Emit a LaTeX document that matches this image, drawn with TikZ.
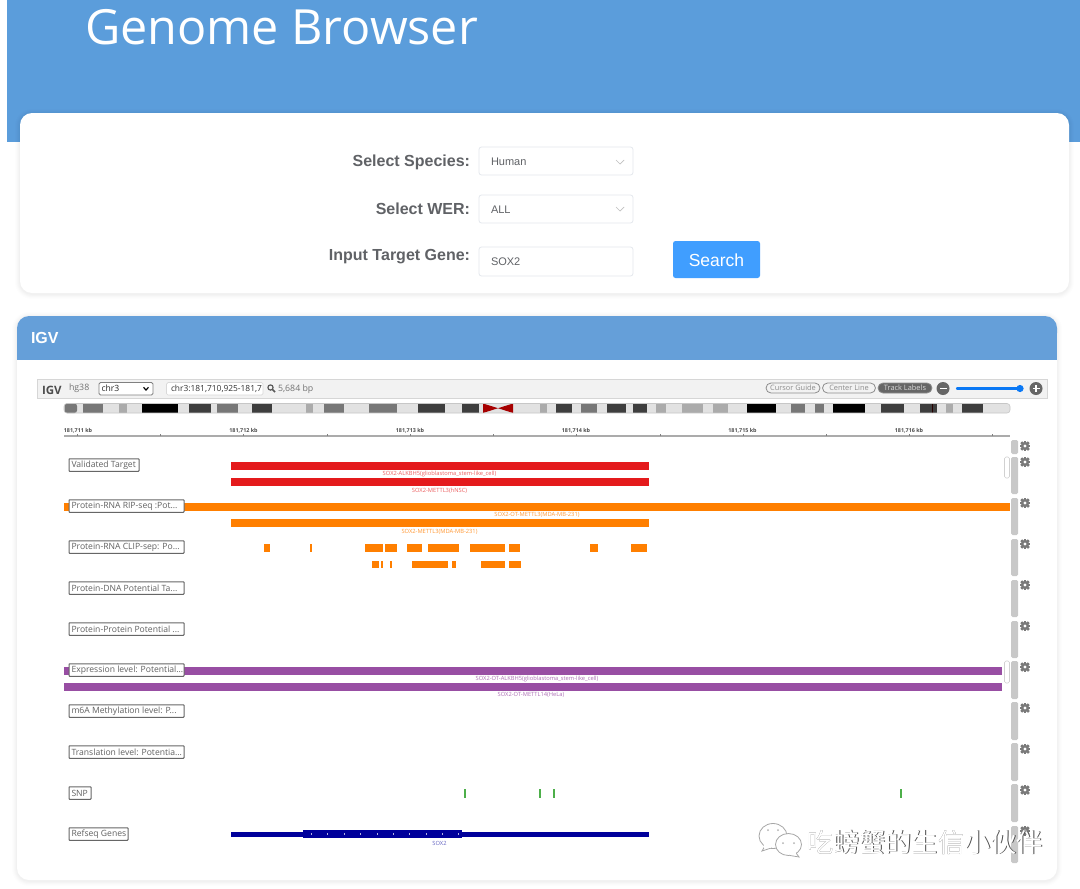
\documentclass[tikz,border=0pt]{standalone}
\usepackage{fontspec}
\setmainfont{Liberation Sans}
\newfontfamily\uifont{Open Sans}
\newfontfamily\cjkfont{Noto Sans CJK SC}
\definecolor{headblue}{HTML}{5B9DDB}
\definecolor{panelblue}{HTML}{659FD9}
\definecolor{formgray}{HTML}{606266}
\definecolor{fieldline}{HTML}{E4E7ED}
\definecolor{btnblue}{HTML}{409EFF}
\definecolor{sliderblue}{HTML}{0A78F5}
\definecolor{trkred}{HTML}{E41A1C}
\definecolor{trkorange}{HTML}{FF7F00}
\definecolor{trkpurple}{HTML}{984EA3}
\definecolor{trknavy}{HTML}{00009B}
\definecolor{trkgreen}{HTML}{4DAF4A}
\definecolor{bandA}{HTML}{777777}
\definecolor{bandB}{HTML}{ABABAB}
\definecolor{bandC}{HTML}{3E3E3E}
\definecolor{bandL}{HTML}{E2E2E2}
\definecolor{barGray}{HTML}{C8C8C8}
\tikzset{
  x=1pt,y=-1pt,
  every node/.style={inner sep=0pt,outer sep=0pt},
  formlabel/.style={anchor=east,text=formgray,font=\fontsize{16}{18}\selectfont\bfseries},
  fieldbox/.style={draw=fieldline,fill=white,rounded corners=2.5pt,line width=.8pt},
  fieldtext/.style={anchor=west,text=formgray,font=\fontsize{11}{13}\selectfont},
  chevron/.style={draw=gray!50,line width=.7pt},
  tracklabel/.style={draw=black!60,fill=white,line width=1pt,rounded corners=.6pt,anchor=west,
    inner xsep=2.5pt,minimum height=12.5pt,text=black!62,
    font=\uifont\fontsize{8.6}{10}\selectfont},
  tinylabel/.style={font=\uifont\fontsize{5.75}{6.5}\selectfont},
  rulerlabel/.style={font=\uifont\bfseries\fontsize{5.4}{6}\selectfont,text=black!70},
  pillbtn/.style={draw=black!45,rounded corners=5pt,line width=.8pt,minimum height=10pt,
    font=\uifont\fontsize{7.4}{9}\selectfont,text=black!45},
  pics/gearicon/.style={code={
    \foreach \a in {0,45,...,315}{\fill[black!52,rotate=\a] (-1.15pt,-5.3pt) rectangle (1.15pt,5.3pt);}
    \fill[black!52] (0,0) circle[radius=4.2pt];
    \fill[white] (0,0) circle[radius=1.7pt];
  }},
}
\newcommand{\softcard}[5]{%
  \foreach \e/\o in {5/.006,4/.008,3/.01,2/.012,1/.016}{%
    \fill[black,opacity=\o,rounded corners=#5pt+\e pt] (#1-\e,#2-\e+1) rectangle (#3+\e,#4+\e+1);}%
  \fill[white,rounded corners=#5pt] (#1,#2) rectangle (#3,#4);}
\newcommand{\chev}[2]{\draw[chevron] (#1-4,#2-2) -- (#1,#2+2) -- (#1+4,#2-2);}
\newcommand{\tracktag}[4]{\node[tracklabel] (#1) at (69,#2) {\makebox[\dimexpr#3pt-5pt\relax][l]{#4}};}
\begin{document}
\begin{tikzpicture}
\useasboundingbox (0,0) rectangle (1080,889);
\clip (0,0) rectangle (1080,889);
\fill[white] (0,0) rectangle (1080,889);
% header
\fill[headblue] (7,0) rectangle (1080,142);
\node[anchor=base west,text=white,font=\uifont\fontsize{48.5}{58}\selectfont] (title) at (85,44) {Genome Browser};
% form card
\softcard{20}{113}{1069}{293}{12}
\node[formlabel] (lSpecies) at (470,162) {Select Species:};
\node[formlabel] (lWer) at (470,208.5) {Select WER:};
\node[formlabel] (lGene) at (470,257) {Input Target Gene:};
\draw[fieldbox] (479,147) rectangle (633,175);
\draw[fieldbox] (479,195) rectangle (633,223);
\draw[fieldbox] (479,247) rectangle (633,276);
\node[fieldtext] (vSpecies) at (491,161.5) {Human};
\node[fieldtext] (vWer) at (491,209.5) {ALL};
\node[fieldtext] (vGene) at (491,262) {SOX2};
\chev{620}{162}
\chev{620}{209}
\fill[btnblue,rounded corners=2.5pt] (673,241) rectangle (760,278);
\node[text=white,font=\fontsize{17.5}{20}\selectfont] (search) at (716.5,260) {Search};
% IGV card
\softcard{17}{316}{1057}{880}{12}
\fill[panelblue,rounded corners=12pt] (17,316) rectangle (1057,345);
\fill[panelblue] (17,330) rectangle (1057,360);
\node[anchor=west,text=white,font=\fontsize{16}{18}\selectfont\bfseries] (igvhead) at (31,338) {IGV};
% toolbar
\fill[black!5] (37,379) rectangle (1047,398);
\draw[black!16,line width=.8pt] (37,379) rectangle (1047,398);
\node[anchor=west,text=black!70,font=\uifont\bfseries\fontsize{11.5}{13}\selectfont] (igvlogo) at (42,390) {IGV};
\node[anchor=west,text=black!55,font=\uifont\fontsize{8.8}{10}\selectfont] (hg) at (69,388.5) {hg38};
\draw[black!50,fill=white,rounded corners=1.5pt,line width=.8pt] (99,382.5) rectangle (153,395);
\node[anchor=west,text=black!85,font=\uifont\fontsize{8.6}{10}\selectfont] (chr) at (101.5,388.7) {chr3};
\draw[black,line width=1.2pt] (143.5,387.3) -- (146,390) -- (148.5,387.3);
\draw[black!15,fill=white,rounded corners=1.5pt,line width=.7pt] (166.5,382.5) rectangle (263,395);
\node[anchor=west,text=black!80,font=\uifont\fontsize{8.4}{10}\selectfont] (locus) at (171,388.7) {chr3:181,710,925-181,7};
\draw[black!65,line width=1.2pt] (270.5,387.5) circle[radius=2.6pt];
\draw[black!65,line width=1.5pt] (272.5,389.5) -- (275,392);
\node[anchor=west,text=black!55,font=\uifont\fontsize{8.8}{10}\selectfont] (bp) at (278,389) {5,684 bp};
\node[pillbtn,minimum width=54pt] (cg) at (793,388) {Cursor Guide};
\node[pillbtn,minimum width=53pt] (cl) at (849,388) {Center Line};
\node[pillbtn,fill=black!60,text=white!85!black,minimum width=54pt] (tlb) at (905,388) {Track Labels};
\fill[black!60] (943,388.5) circle[radius=6.5pt];
\fill[white] (939.5,387.6) rectangle (946.5,389.4);
\draw[sliderblue,line width=2.4pt,line cap=round] (957,388.5) -- (1019,388.5);
\fill[sliderblue] (1020,388.5) circle[radius=3.6pt];
\fill[black!60] (1036,388.5) circle[radius=6.5pt];
\fill[white] (1032.5,387.6) rectangle (1039.5,389.4);
\fill[white] (1035.1,385) rectangle (1036.9,392);
% ideogram
\fill[bandL,rounded corners=3pt] (64,403.5) rectangle (1010,413);
\fill[bandA,rounded corners=2.5pt] (64.5,403.5) rectangle (77,413);
\foreach \a/\b/\c in {83.3/102.7/bandA,119.3/127.3/bandB,142/177.7/black,189.3/211/bandC,217/238/bandA,251.7/271.7/bandC,306/313.3/bandB,323.7/343.7/bandA,368.7/396.7/bandA,418/445/bandC,462.3/479.3/bandC,
  540/547.3/bandB,556/572.3/bandC,580.7/596.7/bandA,607/626/bandC,633.3/647/bandC,656.3/665.7/bandB,682/703.3/bandB,713.3/727.7/bandB,747.3/776/black,791/805/bandA,814.7/824/bandA,832.7/865/black,881.3/903.7/bandC,919.7/937/bandC,946/953/bandB,962.3/983/bandC}
  {\fill[\c] (\a,403.5) rectangle (\b,413);}
\fill[black!85!red] (931.5,403.5) rectangle (932.7,413);
\fill[red!65!black] (483,403.5) -- (498,408.2) -- (483,413) -- cycle;
\fill[red!65!black] (513,403.5) -- (498,408.2) -- (513,413) -- cycle;
\fill[red!65!black] (483,403.5) rectangle (484,413);
\draw[black!22,rounded corners=3pt,line width=.6pt] (64,403.5) rectangle (1010,413);
% ruler
\draw[black!33,line width=1.2pt] (64,436) -- (1010,436);
\foreach \t in {77,160,243.7,327,410,493,576,660,743,826,909,992}
  {\draw[black!50,line width=.8pt] (\t,434.3) -- (\t,436);}
\node[rulerlabel] (k1) at (78,431) {181,711 kb};
\node[rulerlabel] (k2) at (243.5,431) {181,712 kb};
\node[rulerlabel] (k3) at (410,431) {181,713 kb};
\node[rulerlabel] (k4) at (576,431) {181,714 kb};
\node[rulerlabel] (k5) at (742.5,431) {181,715 kb};
\node[rulerlabel] (k6) at (909,431) {181,716 kb};
% side bars and gears
\foreach \a/\b in {440/454,457/494,498/535,539/576,580/617,621/658,661/699,702/740,743/781,784/822,826/863}
  {\fill[barGray,rounded corners=1.5pt] (1011,\a) rectangle (1018,\b);}
\foreach \g in {446,462,503,544,585,626,667,708,749,790,831}
  {\pic at (1025,\g) {gearicon};}
\draw[black!18,fill=white,rounded corners=1.5pt,line width=.6pt] (1004.5,457) rectangle (1009.5,478);
\draw[black!18,fill=white,rounded corners=1.5pt,line width=.6pt] (1004.5,661) rectangle (1009.5,683);
% tracks
\fill[trkred] (231,462) rectangle (648.5,470);
\fill[trkred] (231,478) rectangle (648.5,486);
\fill[trkorange] (64,503) rectangle (1010,511);
\fill[trkorange] (231,519) rectangle (648.5,527);
\foreach \a/\b in {264/270,310/312,365/383,385/397,407/422,428/459,470/505,509/520,590/598,631/647}
  {\fill[trkorange] (\a,544) rectangle (\b,551.5);}
\foreach \a/\b in {372/379,381/382.5,390/392,412/448,452/456,481/504.5,509/520.5}
  {\fill[trkorange] (\a,560.5) rectangle (\b,568);}
\fill[trkpurple] (64,666.5) rectangle (1002,674.5);
\fill[trkpurple] (64,683) rectangle (1002,691);
\foreach \s in {465,540,554,901}
  {\fill[trkgreen] (\s-.7,789) rectangle (\s+.7,797.5);}
\fill[trknavy] (231,832) rectangle (648.5,836.5);
\fill[trknavy] (303,830) rectangle (462,838);
\foreach \t in {311,327,344,360,377,393,409,426,442,458}
  {\fill[white!70!trknavy] (\t-.4,833.3) rectangle (\t+.4,835);}
% track feature labels
\node[tinylabel,text=trkred!70] (f1) at (439.5,474.5) {SOX2-ALKBH5(glioblastoma\_stem-like\_cell)};
\node[tinylabel,text=trkred!70] (f2) at (439.5,490.5) {SOX2-METTL3(hNSC)};
\node[tinylabel,text=trkorange!80] (f3) at (537,515.2) {SOX2-OT-METTL3(MDA-MB-231)};
\node[tinylabel,text=trkorange!80] (f4) at (439.5,531.7) {SOX2-METTL3(MDA-MB-231)};
\node[tinylabel,text=trkpurple!80] (f5) at (537,679.2) {SOX2-OT-ALKBH5(glioblastoma\_stem-like\_cell)};
\node[tinylabel,text=trkpurple!80] (f6) at (531,695.2) {SOX2-OT-METTL14(HeLa)};
\node[tinylabel,text=trknavy!60] (f7) at (439.5,843) {SOX2};
% track labels
\tracktag{t1}{465}{70}{Validated Target}
\tracktag{t2}{506}{115}{Protein-RNA RIP-seq :Pot...}
\tracktag{t3}{547}{115}{Protein-RNA CLIP-sep: Po...}
\tracktag{t4}{588}{115}{Protein-DNA Potential Ta...}
\tracktag{t5}{629}{115}{Protein-Protein Potential ...}
\tracktag{t6}{670}{115}{Expression level: Potential...}
\tracktag{t7}{711}{115}{m6A Methylation level: P...}
\tracktag{t8}{752}{115}{Translation level: Potentia...}
\tracktag{t9}{793}{22}{SNP}
\tracktag{t10}{834}{59}{Refseq Genes}
% watermark
\begin{scope}[line width=.8pt]
\draw[black!35,fill=white] (773,836) circle[x radius=14pt,y radius=12.5pt];
\draw[black!35,fill=white] (765,846) -- (762,851) -- (771,848) -- cycle;
\fill[white] (764,843) rectangle (771,848);
\draw[black!35,fill=white] (788.5,844.5) circle[x radius=13pt,y radius=11pt];
\draw[black!35,fill=white] (796,853) -- (799,857) -- (790,855.5);
\fill[white] (790,852) rectangle (796,855);
\foreach \p/\q in {768/830,778/830,783/843,794/843}{\fill[black!30] (\p,\q) circle[radius=1pt];}
\end{scope}
\node[anchor=west,text=black!70,font=\cjkfont\fontsize{26.2}{28}\selectfont] (wmshadow) at (807.9,842.9) {吃螃蟹的生信小伙伴};
\node[anchor=west,text=white,font=\cjkfont\fontsize{26.2}{28}\selectfont] (wm) at (807,842) {吃螃蟹的生信小伙伴};
\end{tikzpicture}
\end{document}
